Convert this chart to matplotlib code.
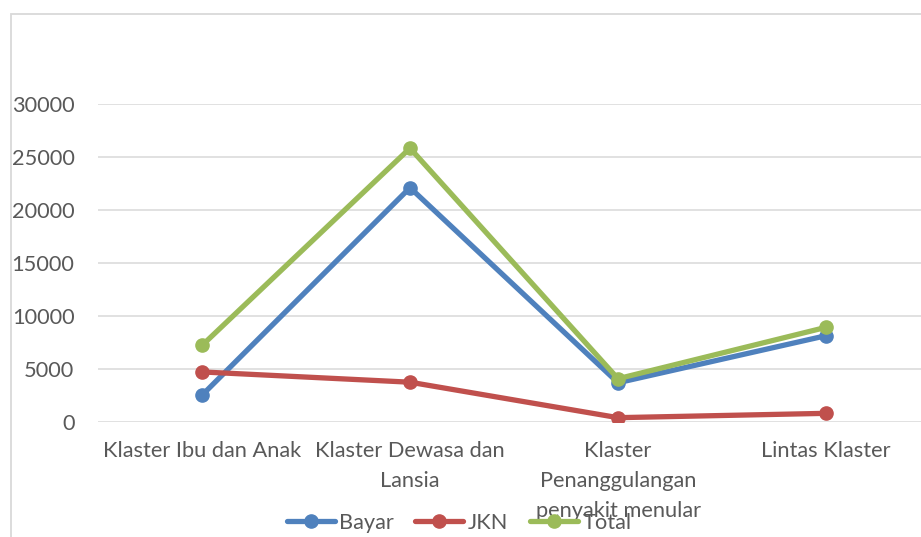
import matplotlib
matplotlib.use("Agg")
from matplotlib import pyplot as plt
from matplotlib.patches import Rectangle

categories = ["Klaster Ibu dan Anak", "Klaster Dewasa dan\nLansia",
              "Klaster\nPenanggulangan\npenyakit menular", "Lintas Klaster"]
bayar = [2500, 22100, 3680, 8120]
jkn = [4700, 3730, 380, 790]
total = [7200, 25830, 4060, 8910]
y_ticks = [0, 5000, 10000, 15000, 20000, 25000, 30000]

plt.rcParams['font.family'] = ['Lato', 'DejaVu Sans']
text_color = '#595959'
grid_color = '#d9d9d9'
fs = 15.7

W, H = 921, 537
fig = plt.figure(figsize=(W / 100, H / 100), dpi=100)
fig.patch.set_facecolor('white')

# chart frame (cut off at right and bottom)
fig.patches.append(Rectangle((10.5 / W, -0.1), 1.2, (H - 14) / H + 0.1,
                             transform=fig.transFigure, fill=False,
                             edgecolor=grid_color, linewidth=1.3))

ax = fig.add_axes([98 / W, (H - 421.7) / H, 832 / W, (421.7 - 104) / H])
x = list(range(len(categories)))

series = [("Bayar", bayar, '#4f81bd'), ("JKN", jkn, '#c0504d'), ("Total", total, '#9bbb59')]
for name, vals, col in series:
    ax.plot(x, vals, '-o', color=col, linewidth=3.8, markersize=9.5,
            label=name, solid_capstyle='round', zorder=3)

ax.set_xlim(-0.5, 3.5)
ax.set_ylim(0, 30000)
ax.set_yticks(y_ticks)
ax.set_yticklabels([str(v) for v in y_ticks])
ax.set_xticks(x)
ax.set_xticklabels(categories, linespacing=1.62)
ax.tick_params(axis='both', length=0, labelsize=fs, labelcolor=text_color)
ax.tick_params(axis='y', pad=17)
ax.tick_params(axis='x', pad=14)
ax.yaxis.grid(True, color=grid_color, linewidth=1.1)
ax.set_axisbelow(True)
for s in ax.spines.values():
    s.set_visible(False)
ax.set_facecolor('none')

leg = fig.legend(loc='center', bbox_to_anchor=(459 / W, (H - 523) / H), ncol=3,
                 frameon=False, fontsize=fs, handlelength=2.2, handletextpad=0.2,
                 columnspacing=1.0, borderpad=0)
for t in leg.get_texts():
    t.set_color(text_color)

fig.savefig('out.png', dpi=100)
